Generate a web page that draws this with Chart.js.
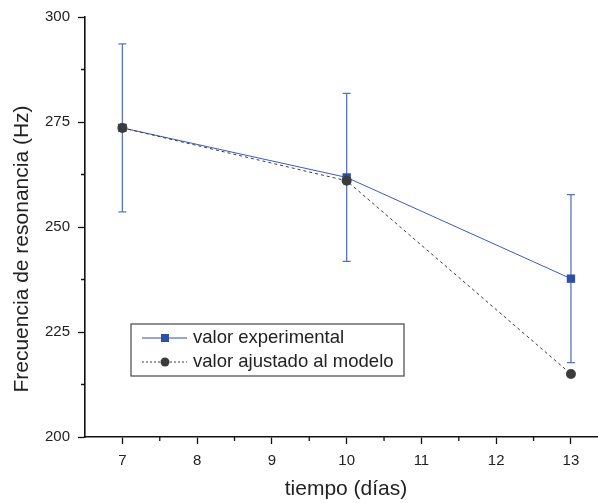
<!DOCTYPE html>
<html lang="es">
<head>
    <meta charset="UTF-8">
    <title>Frecuencia de resonancia</title>
    <script src="https://cdn.jsdelivr.net/npm/chart.js"></script>
    <style>
        html, body { margin: 0; background: #fff; overflow: hidden; }
        .chart-container { position: relative; width: 606px; height: 503px; }
    </style>
</head>
<body>
    <div class="chart-container">
        <canvas id="freqChart"></canvas>
    </div>

    <script>
        // tiempo (días) y frecuencias medidas / del modelo
        const dias = [7, 10, 13];
        const freqExperimental = [273.6, 261.8, 237.7];
        const errorExperimental = [20, 20, 20];
        const freqModelo = [273.6, 261, 215];

        const xTicks = [7, 8, 9, 10, 11, 12, 13];
        const yTicks = [200, 225, 250, 275, 300];
        const xMinor = [7.5, 8.5, 9.5, 10.5, 11.5, 12.5];
        const yMinor = [212.5, 237.5, 262.5, 287.5];

        const azul = '#2f4ea6';
        const azulClaro = '#5a74c4';
        const gris = '#3c3c3c';
        const FONT = 'Arial, "Liberation Sans", sans-serif';

        // barras de error del valor experimental
        const errorBars = {
            id: 'errorBars',
            beforeDatasetsDraw(chart) {
                const { ctx, scales: { x, y } } = chart;
                ctx.save();
                ctx.strokeStyle = azulClaro;
                ctx.lineWidth = 1.3;
                dias.forEach((d, i) => {
                    const px = x.getPixelForValue(d);
                    const top = y.getPixelForValue(freqExperimental[i] + errorExperimental[i]);
                    const bot = y.getPixelForValue(freqExperimental[i] - errorExperimental[i]);
                    ctx.beginPath();
                    ctx.moveTo(px, top); ctx.lineTo(px, bot);
                    ctx.moveTo(px - 4, top); ctx.lineTo(px + 4, top);
                    ctx.moveTo(px - 4, bot); ctx.lineTo(px + 4, bot);
                    ctx.stroke();
                });
                ctx.restore();
            }
        };

        // ticks menores y títulos de los ejes
        const axisExtras = {
            id: 'axisExtras',
            afterDraw(chart) {
                const { ctx, chartArea, scales: { x, y } } = chart;
                ctx.save();
                ctx.strokeStyle = '#111';
                ctx.lineWidth = 1.3;
                ctx.beginPath();
                xMinor.forEach(v => {
                    const px = x.getPixelForValue(v);
                    ctx.moveTo(px, chartArea.bottom); ctx.lineTo(px, chartArea.bottom + 4);
                });
                yMinor.forEach(v => {
                    const py = y.getPixelForValue(v);
                    ctx.moveTo(chartArea.left, py); ctx.lineTo(chartArea.left - 4, py);
                });
                ctx.stroke();

                ctx.fillStyle = '#222';
                ctx.font = '21px ' + FONT;
                ctx.textAlign = 'center';
                ctx.textBaseline = 'middle';
                ctx.fillText('tiempo (días)', 346, 489);
                ctx.translate(22, 249);
                ctx.rotate(-Math.PI / 2);
                ctx.fillText('Frecuencia de resonancia (Hz)', 0, 0);
                ctx.restore();
            }
        };

        // leyenda con recuadro dentro del área
        const boxLegend = {
            id: 'boxLegend',
            afterDraw(chart) {
                const ctx = chart.ctx;
                const bx = 131, by = 324, bw = 273, bh = 52;
                ctx.save();
                ctx.fillStyle = '#fff';
                ctx.fillRect(bx, by, bw, bh);
                ctx.strokeStyle = '#555';
                ctx.lineWidth = 1.3;
                ctx.strokeRect(bx, by, bw, bh);

                // fila 1: valor experimental
                const ry = 338;
                ctx.strokeStyle = azul;
                ctx.lineWidth = 1;
                ctx.beginPath();
                ctx.moveTo(142, ry); ctx.lineTo(187, ry);
                ctx.stroke();
                ctx.fillStyle = azul;
                ctx.fillRect(161, ry - 4, 8, 8);

                // fila 2: valor ajustado al modelo
                const ry2 = 362;
                ctx.strokeStyle = gris;
                ctx.setLineDash([2, 2]);
                ctx.beginPath();
                ctx.moveTo(142, ry2); ctx.lineTo(187, ry2);
                ctx.stroke();
                ctx.setLineDash([]);
                ctx.fillStyle = gris;
                ctx.beginPath();
                ctx.arc(165, ry2, 4.5, 0, Math.PI * 2);
                ctx.fill();

                ctx.fillStyle = '#222';
                ctx.font = '18.5px ' + FONT;
                ctx.textBaseline = 'middle';
                ctx.fillText('valor experimental', 193, ry);
                ctx.fillText('valor ajustado al modelo', 193, ry2);
                ctx.restore();
            }
        };

        const ctx = document.getElementById('freqChart').getContext('2d');
        new Chart(ctx, {
            type: 'scatter',
            data: {
                datasets: [{
                    label: 'valor experimental',
                    data: dias.map((d, i) => ({ x: d, y: freqExperimental[i] })),
                    showLine: true,
                    borderColor: '#3a5bbd',
                    borderWidth: 1,
                    pointStyle: 'rect',
                    pointRadius: 5.9,
                    pointBackgroundColor: azul,
                    pointBorderWidth: 0,
                    order: 2
                }, {
                    label: 'valor ajustado al modelo',
                    data: dias.map((d, i) => ({ x: d, y: freqModelo[i] })),
                    showLine: true,
                    borderColor: gris,
                    borderWidth: 1,
                    borderDash: [3, 3],
                    pointStyle: 'circle',
                    pointRadius: 5,
                    pointBackgroundColor: gris,
                    pointBorderWidth: 0,
                    order: 1
                }]
            },
            options: {
                responsive: true,
                maintainAspectRatio: false,
                animation: false,
                layout: { padding: { top: 14, right: 0, left: 0, bottom: 0 } },
                plugins: {
                    legend: { display: false },
                    tooltip: { enabled: false }
                },
                scales: {
                    x: {
                        type: 'linear',
                        min: 6.5,
                        max: 13.39,
                        afterBuildTicks: scale => { scale.ticks = xTicks.map(v => ({ value: v })); },
                        afterFit: scale => { scale.height = 66; },
                        grid: { drawOnChartArea: false, drawTicks: true, tickLength: 7, tickColor: '#111', tickWidth: 1.3 },
                        border: { display: true, color: '#111', width: 1.6 },
                        ticks: { color: '#222', padding: 8, font: { family: FONT, size: 15 } }
                    },
                    y: {
                        min: 200,
                        max: 300,
                        afterBuildTicks: scale => { scale.ticks = yTicks.map(v => ({ value: v })); },
                        afterFit: scale => { scale.width = 85; },
                        grid: { drawOnChartArea: false, drawTicks: true, tickLength: 7, tickColor: '#111', tickWidth: 1.3 },
                        border: { display: true, color: '#111', width: 1.6 },
                        ticks: { color: '#222', padding: 8, font: { family: FONT, size: 15 } }
                    }
                }
            },
            plugins: [errorBars, axisExtras, boxLegend]
        });
    </script>
</body>
</html>
